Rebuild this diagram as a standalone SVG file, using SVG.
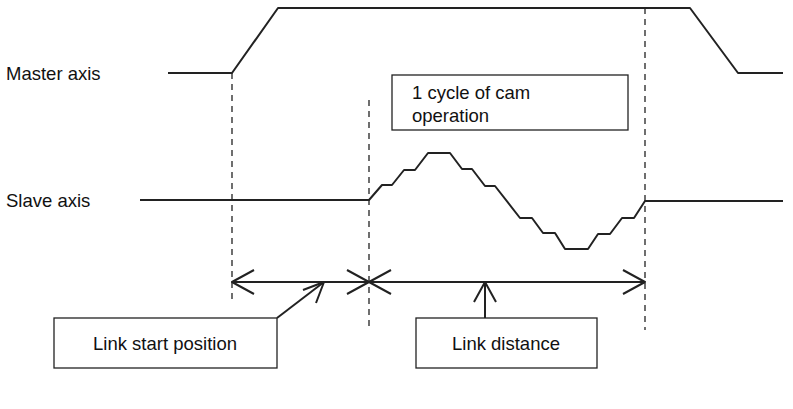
<svg xmlns="http://www.w3.org/2000/svg" width="793" height="409" viewBox="0 0 793 409">
<style>
.l{fill:none;stroke:#222;stroke-width:2;stroke-linejoin:round}
.d{fill:none;stroke:#222;stroke-width:1.3;stroke-dasharray:6,5}
.b{fill:#fff;stroke:#222;stroke-width:1.3}
text{font-family:"Liberation Sans",Arial,sans-serif;font-size:18.5px;fill:#111}
</style>
<g id="labels">
<text x="6" y="80">Master axis</text>
<text x="6" y="207">Slave axis</text>
</g>
<g id="guides">
<line class="d" x1="232" y1="73" x2="232" y2="300"/>
<line class="d" x1="369" y1="100" x2="369" y2="330"/>
<line class="d" x1="645" y1="8" x2="645" y2="330"/>
</g>
<g id="master">
<polyline class="l" points="168,73 232,73 278,8 690,8 738,73 783,73"/>
</g>
<g id="slave">
<polyline class="l" points="140,200 369,200 382,185 392,185 404,170 415,170 428,153 450,153 462,169 472,169 485,186 495,186 520,218 532,218 543,233 555,233 565,249 588,249 598,234 610,234 622,218 634,218 645,201 783,201"/>
</g>
<g id="cycle-box">
<rect class="b" x="392" y="75" width="236" height="55"/>
<text x="412" y="99">1 cycle of cam</text>
<text x="412" y="122">operation</text>
</g>
<g id="connectors">
<line class="l" x1="232" y1="282" x2="645" y2="282"/>
<polyline class="l" points="254,270 232,282 254,294"/>
<polyline class="l" points="347,270 369,282 347,294"/>
<polyline class="l" points="391,270 369,282 391,294"/>
<polyline class="l" points="623,270 645,282 623,294"/>
<line class="l" x1="277" y1="318" x2="324" y2="282"/>
<polyline class="l" points="303,290 324,282 316,303"/>
<line class="l" x1="485" y1="318" x2="485" y2="282"/>
<polyline class="l" points="474,302 485,282 496,302"/>
</g>
<g id="link-start">
<rect class="b" x="54" y="318" width="223" height="50"/>
<text x="165" y="350" text-anchor="middle">Link start position</text>
</g>
<g id="link-distance">
<rect class="b" x="416" y="318" width="181" height="50"/>
<text x="506" y="350" text-anchor="middle">Link distance</text>
</g>
</svg>
